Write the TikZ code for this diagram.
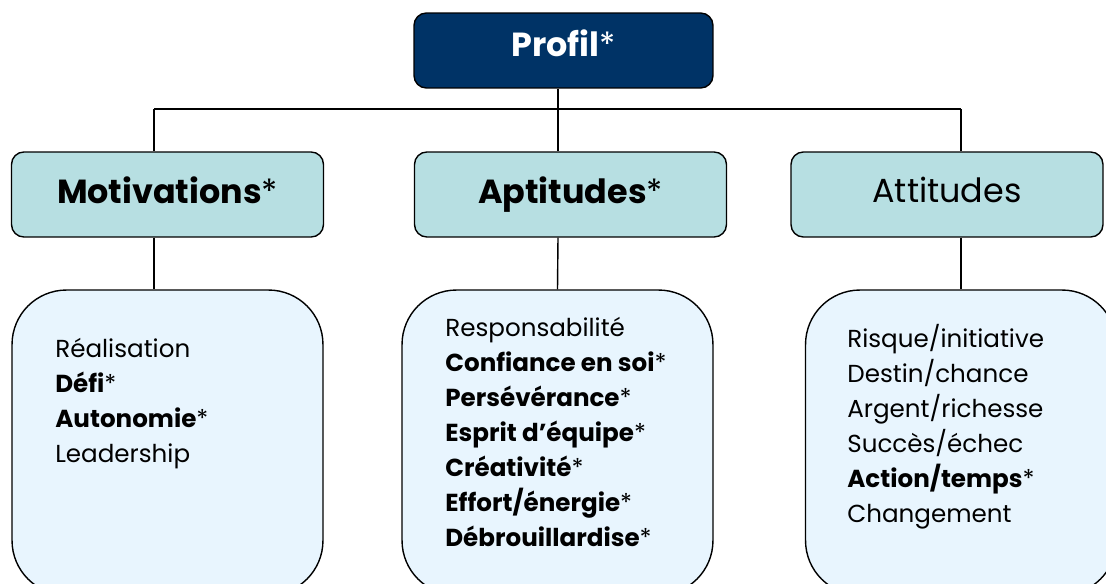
\documentclass[tikz,border=0pt]{standalone}
\usepackage{fontspec}
\setmainfont{Poppins}
\usetikzlibrary{positioning}

\definecolor{profilblue}{RGB}{0,51,102}
\definecolor{headteal}{RGB}{183,223,226}
\definecolor{listblue}{RGB}{232,245,254}

\tikzset{
  topbox/.style={draw=black, line width=.8pt, fill=profilblue, rounded corners=7pt, minimum width=5.98cm, minimum height=1.5cm, text=white, text depth=8pt, font=\fontsize{19}{23}\selectfont},
  headbox/.style={draw=black, line width=.8pt, fill=headteal, rounded corners=7pt, minimum width=6.24cm, minimum height=1.7cm, text depth=5pt, font=\fontsize{19}{23}\selectfont},
  listbox/.style={draw=black, line width=.8pt, fill=listblue, rounded corners=31pt, minimum width=6.22cm, minimum height=6.1cm},
  listtext/.style={align=left, anchor=west, inner sep=0pt, font=\fontsize{14}{19.9}\selectfont},
  link/.style={line width=.8pt}
}

\begin{document}
\begin{tikzpicture}[x=0.02cm, y=-0.02cm]
\clip (0,0) rectangle (1106,584);
% bus line
\coordinate (busL) at (154,109);
\coordinate (busM) at (558,109);
\coordinate (busR) at (961,109);
% top
\node[topbox] (profil) at (563.5,50.5) {\textbf{Profil}*};
% middle row
\node[headbox] (mot) at (167.5,194.5) {\textbf{Motivations}*};
\node[headbox] (apt) at (570.5,194.5) {\textbf{Aptitudes}*};
\node[headbox] (att) at (947,194.5) {Attitudes};
% lower row
\node[listbox] (motd) at (167.5,442.5) {};
\node[listbox] (aptd) at (557.5,442.5) {};
\node[listbox] (attd) at (961,442.5) {};
\node[listtext] (motlist) at (55,404) {R\'ealisation\\ \textbf{D\'efi}*\\ \textbf{Autonomie}*\\ Leadership};
\node[listtext] (aptlist) at (445,432) {Responsabilit\'e\\ \textbf{Confiance en soi}*\\ \textbf{Pers\'ev\'erance}*\\ \textbf{Esprit d'\'equipe}*\\ \textbf{Cr\'eativit\'e}*\\ \textbf{Effort/\'energie}*\\ \textbf{D\'ebrouillardise}*};
\node[listtext] (attlist) at (847,427) {Risque/initiative\\ Destin/chance\\ Argent/richesse\\ Succ\`es/\'echec\\ \textbf{Action/temps}*\\ Changement};
% connectors
\draw[link] (busL) -- (busR);
\draw[link] (profil.south -| busM) -- (apt.north -| busM);
\draw[link] (busL) -- (mot.north -| busL);
\draw[link] (busR) -- (att.north -| busR);
\draw[link] (mot.south -| busL) -- (motd.north -| busL);
\draw[link] (apt.south -| busM) -- (aptd.north);
\draw[link] (att.south -| busR) -- (attd.north);
\end{tikzpicture}
\end{document}
